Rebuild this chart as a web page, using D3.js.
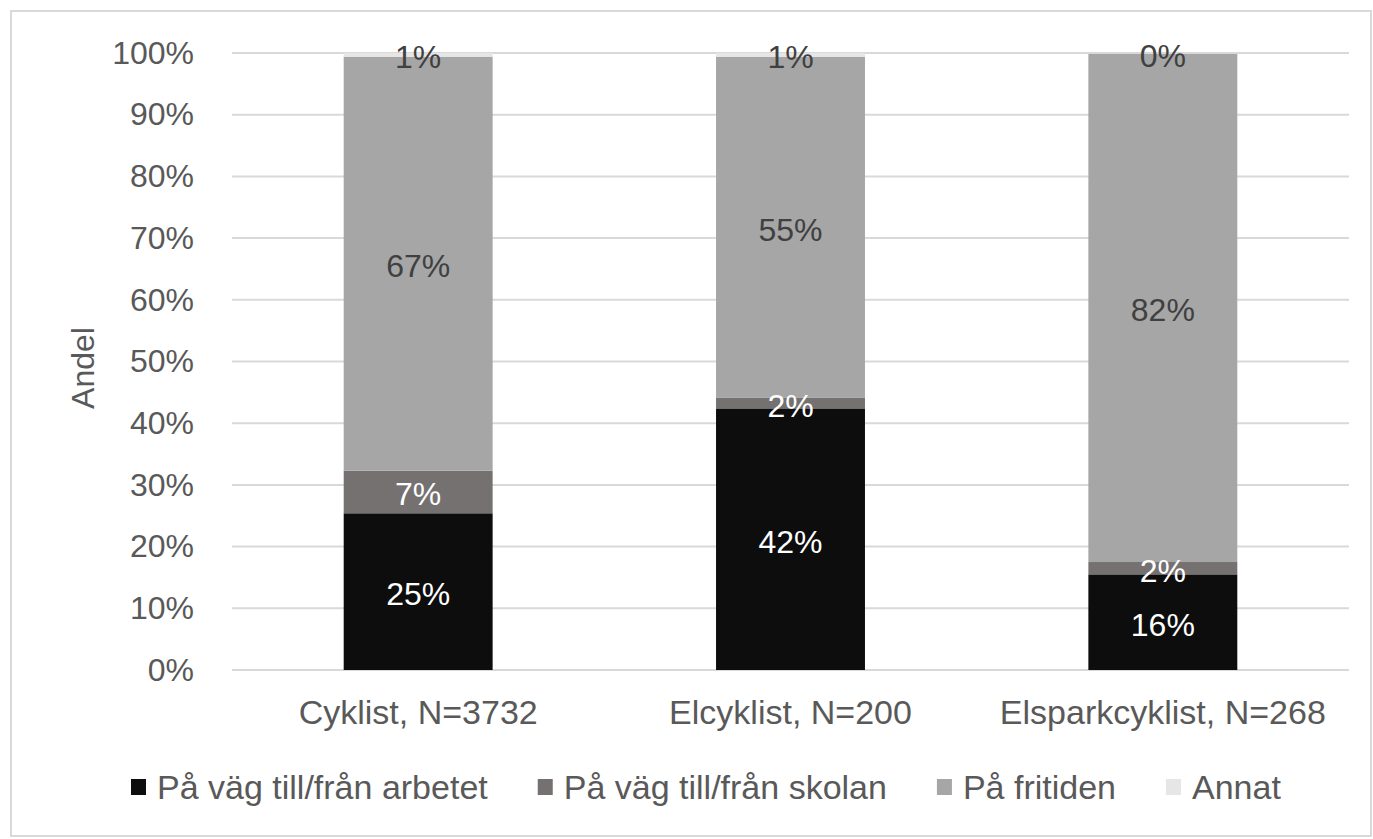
<!DOCTYPE html>
<html>
<head>
<meta charset="utf-8">
<script src="https://cdn.jsdelivr.net/npm/d3@7"></script>
<style>
  body { margin: 0; background: #fff; }
  text { font-family: "Liberation Sans", Arial, sans-serif; }
</style>
</head>
<body>
<svg width="1373" height="839"></svg>
<script>
// data
var categories = ["Cyklist, N=3732", "Elcyklist, N=200", "Elsparkcyklist, N=268"];
var seriesNames = ["På väg till/från arbetet", "På väg till/från skolan", "På fritiden", "Annat"];
var arbetet = [25.4, 42.4, 15.5];
var skolan = [6.9, 1.7, 2.0];
var fritiden = [67.1, 55.3, 82.4];
var annat = [0.6, 0.6, 0.1];
var yTicks = [0, 10, 20, 30, 40, 50, 60, 70, 80, 90, 100];

var colors = ["#0d0d0d", "#767171", "#a6a6a6", "#e7e6e6"];
var labelColors = ["#ffffff", "#ffffff", "#404040", "#404040"];

// build table for stacking
var table = categories.map((c, i) => ({
  cat: c, s0: arbetet[i], s1: skolan[i], s2: fritiden[i], s3: annat[i]
}));
var stack = d3.stack().keys(["s0", "s1", "s2", "s3"])(table);

var svg = d3.select("svg");
var fontSize = 32;
var bigFont = 34;

// outer frame
svg.append("rect")
    .attr("x", 11).attr("y", 11)
    .attr("width", 1360).attr("height", 825)
    .attr("fill", "#fff")
    .attr("stroke", "#d9d9d9")
    .attr("stroke-width", 2);

var x = d3.scaleBand()
    .domain(categories)
    .range([232, 1349])
    .paddingInner(0.6)
    .paddingOuter(0.3);

var y = d3.scaleLinear()
    .domain([0, 100])
    .range([670, 53]);

// gridlines
svg.append("g")
    .selectAll("line")
    .data(yTicks)
    .join("line")
    .attr("x1", 232).attr("x2", 1349)
    .attr("y1", d => y(d)).attr("y2", d => y(d))
    .attr("stroke", "#d9d9d9")
    .attr("stroke-width", 2);

// y axis labels
var yAxis = svg.append("g")
    .attr("transform", "translate(232,0)")
    .call(d3.axisLeft(y).tickValues(yTicks).tickFormat(d => d + "%").tickSize(0).tickPadding(38));
yAxis.select(".domain").remove();
yAxis.selectAll("text")
    .attr("font-size", fontSize)
    .attr("font-family", "Liberation Sans, Arial, sans-serif")
    .attr("fill", "#595959");

// x axis labels
var xAxis = svg.append("g")
    .attr("transform", "translate(0,670)")
    .call(d3.axisBottom(x).tickSize(0).tickPadding(30));
xAxis.select(".domain").remove();
xAxis.selectAll("text")
    .attr("font-size", bigFont)
    .attr("font-family", "Liberation Sans, Arial, sans-serif")
    .attr("fill", "#595959");

// bars
var layer = svg.append("g")
    .selectAll("g")
    .data(stack)
    .join("g")
    .attr("fill", (d, i) => colors[i]);

layer.selectAll("rect")
    .data(d => d)
    .join("rect")
    .attr("x", d => x(d.data.cat))
    .attr("width", x.bandwidth())
    .attr("y", d => y(d[1]))
    .attr("height", d => y(d[0]) - y(d[1]));

// data labels
stack.forEach((s, i) => {
  svg.append("g")
      .selectAll("text")
      .data(s)
      .join("text")
      .attr("x", d => x(d.data.cat) + x.bandwidth() / 2)
      .attr("y", d => y((d[0] + d[1]) / 2))
      .attr("dy", "0.42em")
      .attr("text-anchor", "middle")
      .attr("font-size", fontSize)
      .attr("fill", labelColors[i])
      .text(d => Math.round(d[1] - d[0]) + "%");
});

// y title
svg.append("text")
    .attr("transform", "translate(83,368) rotate(-90)")
    .attr("dy", "0.35em")
    .attr("text-anchor", "middle")
    .attr("font-size", fontSize)
    .attr("fill", "#595959")
    .text("Andel");

// legend
var legend = svg.append("g").attr("transform", "translate(131,787)");
var lx = 0;
seriesNames.forEach((name, i) => {
  var g = legend.append("g").attr("transform", "translate(" + lx + ",0)");
  g.append("rect")
      .attr("x", 0).attr("y", -8)
      .attr("width", 15).attr("height", 16)
      .attr("fill", colors[i]);
  var t = g.append("text")
      .attr("x", 26)
      .attr("dy", "0.35em")
      .attr("font-size", bigFont)
      .attr("fill", "#595959")
      .text(name);
  lx += 26 + t.node().getComputedTextLength() + 50;
});
</script>
</body>
</html>
